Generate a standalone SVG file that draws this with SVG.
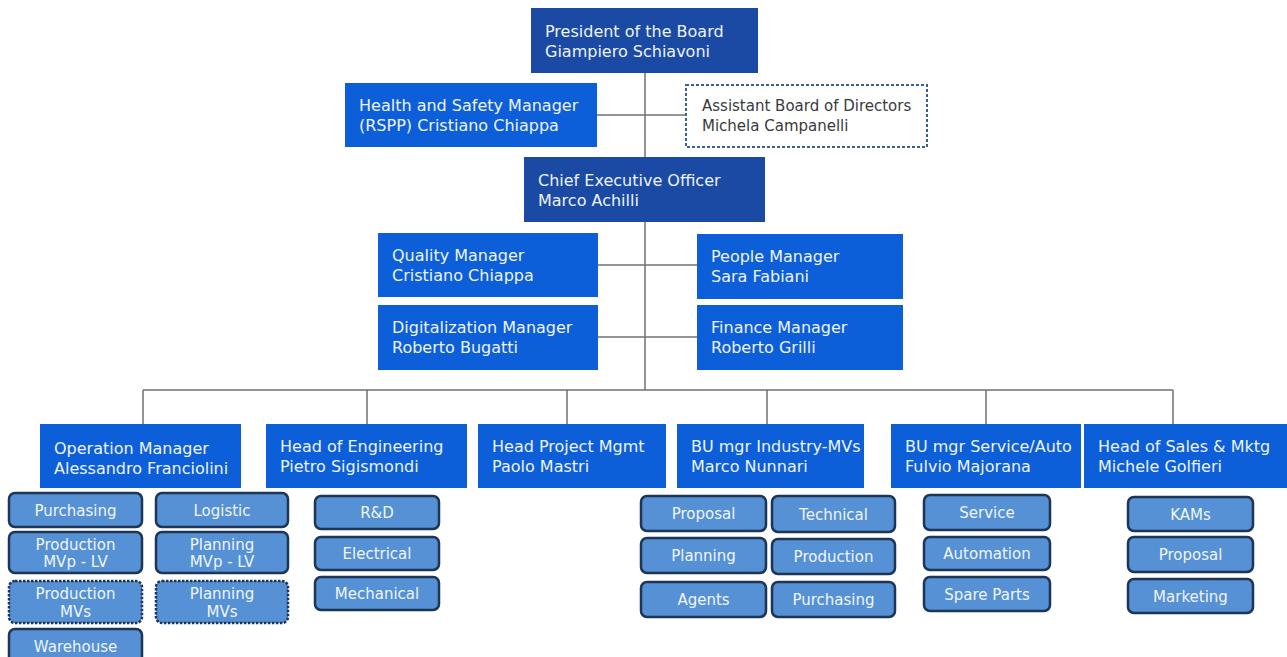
<svg xmlns="http://www.w3.org/2000/svg" width="1287" height="657" viewBox="0 0 1287 657">
<style>
.dark{fill:#1a4aa3}
.bright{fill:#0c5fd8}
.asst{fill:#ffffff;stroke:#3d5f8c;stroke-width:2;stroke-dasharray:3 2}
.sub{fill:#5591d4;stroke:#1d3556;stroke-width:2.5}
.subd{fill:#5591d4;stroke:#1d3556;stroke-width:2.5;stroke-dasharray:2.5 1.5}
.ht{font-family:"DejaVu Sans","Liberation Sans",sans-serif;font-size:16px;fill:#eef3fb}
.at{font-family:"DejaVu Sans","Liberation Sans",sans-serif;font-size:15px;fill:#3a3a3a}
.st{font-family:"DejaVu Sans","Liberation Sans",sans-serif;font-size:15px;fill:#f0f5fc;text-anchor:middle}
.ln{stroke:#707070;stroke-width:1.5;fill:none}
</style>
<rect width="1287" height="657" fill="#ffffff"/>
<g id="connectors" class="ln">
<line x1="645" y1="73" x2="645" y2="390"/>
<line x1="597" y1="115" x2="686" y2="115"/>
<line x1="598" y1="265" x2="697" y2="265"/>
<line x1="598" y1="337" x2="697" y2="337"/>
<line x1="143" y1="390" x2="1173" y2="390"/>
<line x1="143" y1="390" x2="143" y2="424"/>
<line x1="367" y1="390" x2="367" y2="424"/>
<line x1="567" y1="390" x2="567" y2="424"/>
<line x1="767" y1="390" x2="767" y2="424"/>
<line x1="986" y1="390" x2="986" y2="424"/>
<line x1="1173" y1="390" x2="1173" y2="424"/>
</g>
<g id="president"><rect class="dark" x="531" y="8" width="227" height="65"/><text class="ht" x="545" y="37">President of the Board</text><text class="ht" x="545" y="57">Giampiero Schiavoni</text></g>
<g id="health"><rect class="bright" x="345" y="83" width="252" height="64"/><text class="ht" x="359" y="111">Health and Safety Manager</text><text class="ht" x="359" y="131">(RSPP) Cristiano Chiappa</text></g>
<g id="assistant"><rect class="asst" x="686" y="85" width="241" height="62"/><text class="at" x="702" y="111">Assistant Board of Directors</text><text class="at" x="702" y="131">Michela Campanelli</text></g>
<g id="ceo"><rect class="dark" x="524" y="157" width="241" height="65"/><text class="ht" x="538" y="186">Chief Executive Officer</text><text class="ht" x="538" y="206">Marco Achilli</text></g>
<g id="quality"><rect class="bright" x="378" y="233" width="220" height="64"/><text class="ht" x="392" y="261">Quality Manager</text><text class="ht" x="392" y="281">Cristiano Chiappa</text></g>
<g id="people"><rect class="bright" x="697" y="234" width="206" height="65"/><text class="ht" x="711" y="262">People Manager</text><text class="ht" x="711" y="282">Sara Fabiani</text></g>
<g id="digital"><rect class="bright" x="378" y="305" width="220" height="65"/><text class="ht" x="392" y="333">Digitalization Manager</text><text class="ht" x="392" y="353">Roberto Bugatti</text></g>
<g id="finance"><rect class="bright" x="697" y="305" width="206" height="65"/><text class="ht" x="711" y="333">Finance Manager</text><text class="ht" x="711" y="353">Roberto Grilli</text></g>
<g id="operation"><rect class="bright" x="40" y="424" width="201" height="64"/><text class="ht" x="54" y="454">Operation Manager</text><text class="ht" x="54" y="474">Alessandro Franciolini</text></g>
<g id="engineering"><rect class="bright" x="266" y="424" width="201" height="64"/><text class="ht" x="280" y="452">Head of Engineering</text><text class="ht" x="280" y="472">Pietro Sigismondi</text></g>
<g id="project"><rect class="bright" x="478" y="424" width="188" height="64"/><text class="ht" x="492" y="452">Head Project Mgmt</text><text class="ht" x="492" y="472">Paolo Mastri</text></g>
<g id="industry"><rect class="bright" x="677" y="424" width="187" height="64"/><text class="ht" x="691" y="452">BU mgr Industry-MVs</text><text class="ht" x="691" y="472">Marco Nunnari</text></g>
<g id="service"><rect class="bright" x="891" y="424" width="190" height="64"/><text class="ht" x="905" y="452">BU mgr Service/Auto</text><text class="ht" x="905" y="472">Fulvio Majorana</text></g>
<g id="sales"><rect class="bright" x="1084" y="424" width="203" height="64"/><text class="ht" x="1098" y="452">Head of Sales &amp; Mktg</text><text class="ht" x="1098" y="472">Michele Golfieri</text></g>
<g id="op-purchasing"><rect class="sub" x="9" y="493" width="133" height="34" rx="6"/><text class="st" x="75.5" y="515.5">Purchasing</text></g>
<g id="op-logistic"><rect class="sub" x="156" y="493" width="132" height="34" rx="6"/><text class="st" x="222" y="515.5">Logistic</text></g>
<g id="op-prod-mvp"><rect class="sub" x="9" y="532" width="133" height="41" rx="6"/><text class="st" x="75.5" y="550">Production</text><text class="st" x="75.5" y="567">MVp - LV</text></g>
<g id="op-plan-mvp"><rect class="sub" x="156" y="532" width="132" height="41" rx="6"/><text class="st" x="222" y="550">Planning</text><text class="st" x="222" y="567">MVp - LV</text></g>
<g id="op-prod-mvs"><rect class="subd" x="9" y="581" width="133" height="42" rx="6"/><text class="st" x="75.5" y="599">Production</text><text class="st" x="75.5" y="617">MVs</text></g>
<g id="op-plan-mvs"><rect class="subd" x="156" y="581" width="132" height="42" rx="6"/><text class="st" x="222" y="599">Planning</text><text class="st" x="222" y="617">MVs</text></g>
<g id="op-warehouse"><rect class="sub" x="9" y="629" width="133" height="40" rx="6"/><text class="st" x="75.5" y="652">Warehouse</text></g>
<g id="eng-rd"><rect class="sub" x="315" y="496" width="124" height="33" rx="6"/><text class="st" x="377" y="518">R&amp;D</text></g>
<g id="eng-electrical"><rect class="sub" x="315" y="537" width="124" height="33" rx="6"/><text class="st" x="377" y="559">Electrical</text></g>
<g id="eng-mechanical"><rect class="sub" x="315" y="577" width="124" height="33" rx="6"/><text class="st" x="377" y="599">Mechanical</text></g>
<g id="ind-proposal"><rect class="sub" x="641" y="496" width="125" height="35" rx="6"/><text class="st" x="703.5" y="519">Proposal</text></g>
<g id="ind-technical"><rect class="sub" x="772" y="496" width="123" height="36" rx="6"/><text class="st" x="833.5" y="519.5">Technical</text></g>
<g id="ind-planning"><rect class="sub" x="641" y="538" width="125" height="35" rx="6"/><text class="st" x="703.5" y="561">Planning</text></g>
<g id="ind-production"><rect class="sub" x="772" y="539" width="123" height="35" rx="6"/><text class="st" x="833.5" y="562">Production</text></g>
<g id="ind-agents"><rect class="sub" x="641" y="582" width="125" height="35" rx="6"/><text class="st" x="703.5" y="605">Agents</text></g>
<g id="ind-purchasing"><rect class="sub" x="772" y="582" width="123" height="35" rx="6"/><text class="st" x="833.5" y="605">Purchasing</text></g>
<g id="srv-service"><rect class="sub" x="924" y="495" width="126" height="35" rx="6"/><text class="st" x="987" y="518">Service</text></g>
<g id="srv-automation"><rect class="sub" x="924" y="537" width="126" height="33" rx="6"/><text class="st" x="987" y="559">Automation</text></g>
<g id="srv-spare"><rect class="sub" x="924" y="577" width="126" height="34" rx="6"/><text class="st" x="987" y="599.5">Spare Parts</text></g>
<g id="sales-kams"><rect class="sub" x="1128" y="497" width="125" height="34" rx="6"/><text class="st" x="1190.5" y="519.5">KAMs</text></g>
<g id="sales-proposal"><rect class="sub" x="1128" y="537" width="125" height="35" rx="6"/><text class="st" x="1190.5" y="560">Proposal</text></g>
<g id="sales-marketing"><rect class="sub" x="1128" y="579" width="125" height="34" rx="6"/><text class="st" x="1190.5" y="601.5">Marketing</text></g>
</svg>
